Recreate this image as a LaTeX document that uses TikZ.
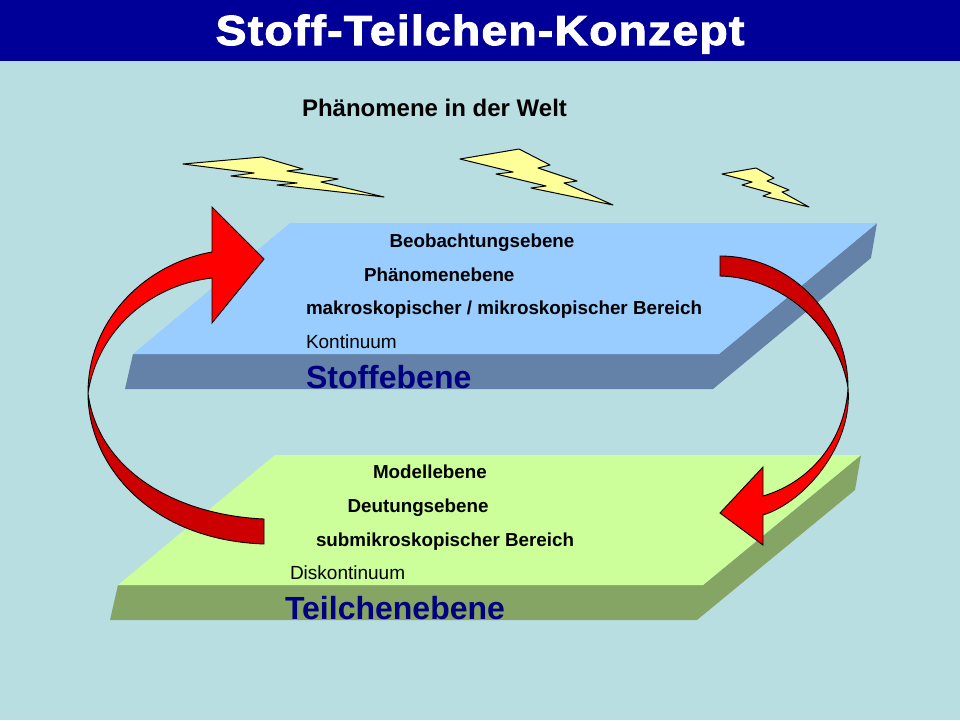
\documentclass[tikz,border=0pt]{standalone}
\usepackage{fontspec}
\setmainfont{Liberation Sans}
\definecolor{bgteal}{RGB}{185,222,226}
\definecolor{titleblue}{RGB}{0,0,153}
\definecolor{bluetop}{RGB}{153,204,255}
\definecolor{blueedge}{RGB}{100,130,168}
\definecolor{greentop}{RGB}{204,255,153}
\definecolor{greenedge}{RGB}{133,165,100}
\definecolor{boltfill}{RGB}{255,255,153}
\definecolor{darkred}{RGB}{204,0,0}
\definecolor{navy}{RGB}{0,0,128}
\tikzset{
	every node/.style={inner sep=0pt, outer sep=0pt},
	titletext/.style={anchor=base, text=white, font=\fontsize{42}{46}\selectfont\bfseries\addfontfeatures{FakeStretch=1.1,LetterSpace=3,FakeBold=2.5}},
	headtext/.style={anchor=base west, font=\fontsize{24}{28}\selectfont\bfseries},
	leveltext/.style={anchor=base west, font=\fontsize{18.8}{22}\selectfont\bfseries},
	plaintext/.style={anchor=base west, font=\fontsize{19}{22}\selectfont},
	planetext/.style={anchor=base west, text=navy, font=\fontsize{32}{36}\selectfont\bfseries},
	bolt/.style={draw=black, line width=1pt, line join=round, fill=boltfill},
	arrowbright/.style={draw=black, line width=0.9pt, fill=red},
	arrowdark/.style={draw=black, line width=0.9pt, fill=darkred},
}
\begin{document}
\begin{tikzpicture}[x=1pt,y=-1pt]
	\useasboundingbox (0,0) rectangle (960,720);
	\fill[bgteal] (0,0) rectangle (960,720);
	\fill[titleblue] (0,0) rectangle (960,61);
	\node (title) at (480,45) [titletext] {Stoff-Teilchen-Konzept};
	\node (welt) at (302,116) [headtext] {Phänomene in der Welt};
	% lightning
	\draw[bolt] (183,164) -- (262,157) -- (303,169) -- (287,171) -- (338,179) -- (321,182) -- (384,197) -- (277,185) -- (297,183) -- (231,176) -- (254,173) -- cycle;
	\draw[bolt] (460,159) -- (519,149) -- (550,165) -- (538,168) -- (577,181) -- (564,183) -- (613,205) -- (531,188) -- (546,186) -- (496,174) -- (513,172) -- cycle;
	\draw[bolt] (722,174) -- (756,168) -- (774,178) -- (767,181) -- (789,190) -- (782,192) -- (809,207) -- (763,196) -- (771,193) -- (742,185) -- (752,182) -- cycle;
	% upper plane
	\fill[blueedge] (133,354) -- (719,354) -- (877,223) -- (871,258) -- (713,389) -- (125,389) -- cycle;
	\fill[bluetop] (290,223) -- (877,223) -- (719,354) -- (133,354) -- cycle;
	% lower plane
	\fill[greenedge] (118,585) -- (703,585) -- (861,455) -- (855,490) -- (697,620) -- (110,620) -- cycle;
	\fill[greentop] (275,455) -- (861,455) -- (703,585) -- (118,585) -- cycle;
	% left arrow
	\draw[arrowdark] (88,393) .. controls (88,465) and (150,540) .. (264,544) -- (264,519) .. controls (175,515) and (98,470) .. (88,393) -- cycle;
	\draw[arrowbright] (88,393) .. controls (88,320) and (145,264) .. (212,252) -- (212,207) -- (264,259) -- (212,323) -- (212,278) .. controls (150,285) and (98,330) .. (88,393) -- cycle;
	% right arrow
	\draw[arrowdark] (720,256) .. controls (790,256) and (848,315) .. (848,388) .. controls (840,335) and (790,278) .. (720,276) -- cycle;
	\draw[arrowbright] (848,388) .. controls (845,440) and (811,482) .. (763,496) -- (763,467) -- (720,513) -- (763,545) -- (763,515) .. controls (805,502) and (853,445) .. (848,388) -- cycle;
	% labels
	\node (beob) at (389.5,247) [leveltext] {Beobachtungsebene};
	\node (phaen) at (364,281) [leveltext] {Phänomenebene};
	\node (makro) at (306,314) [leveltext] {makroskopischer / mikroskopischer Bereich};
	\node (kont) at (306,348) [plaintext] {Kontinuum};
	\node (stoff) at (306,388) [planetext] {Stoffebene};
	\node (modell) at (373,478) [leveltext] {Modellebene};
	\node (deut) at (347.5,512) [leveltext] {Deutungsebene};
	\node (submikro) at (316,546) [leveltext] {submikroskopischer Bereich};
	\node (diskont) at (290,579) [plaintext] {Diskontinuum};
	\node (teilchen) at (285,619) [planetext] {Teilchenebene};
\end{tikzpicture}
\end{document}
